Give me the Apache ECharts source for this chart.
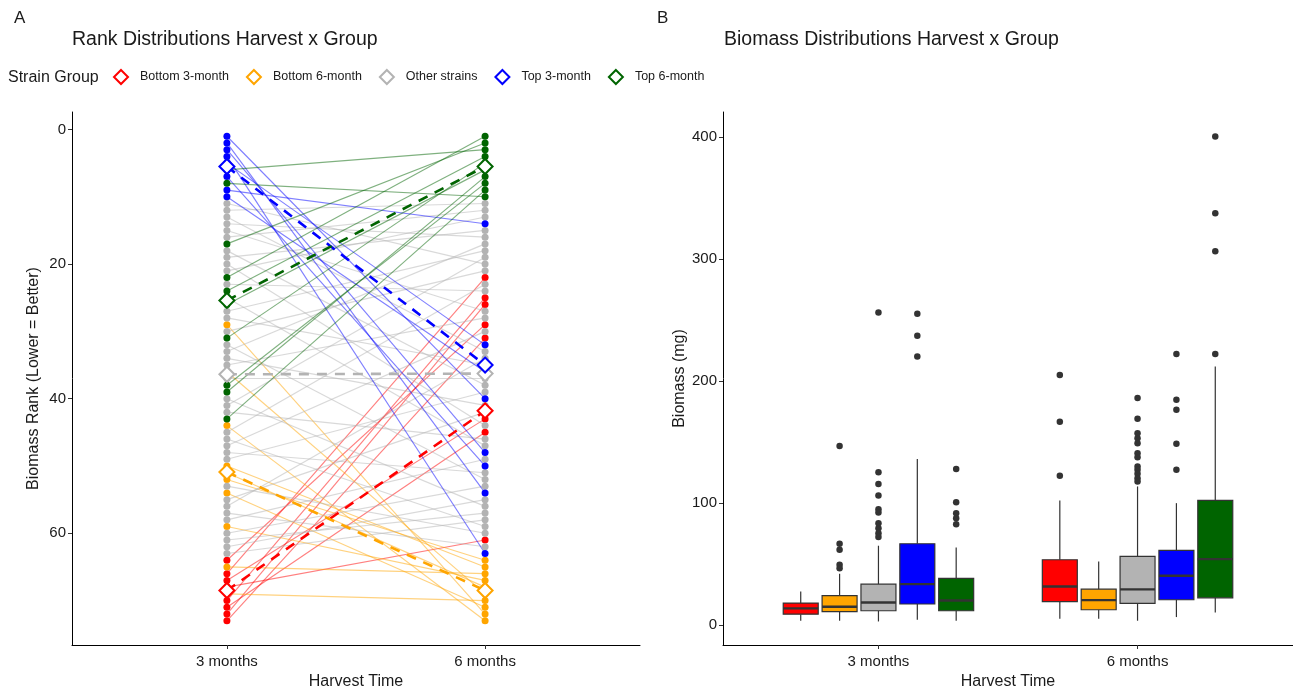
<!DOCTYPE html>
<html>
<head>
<meta charset="utf-8">
<script src="https://cdn.jsdelivr.net/npm/echarts@6/dist/echarts.min.js"></script>
<style>html,body{margin:0;padding:0;background:#fff}#main{width:1293px;height:686px}</style>
</head>
<body>
<div id="main"></div>
<script>
var harvest = ['3 months', '6 months'];
var groups = ['Bottom 3-month', 'Bottom 6-month', 'Other strains', 'Top 3-month', 'Top 6-month'];
var colors = ['#ff0000', '#ffa500', '#b3b3b3', '#0000ff', '#006400'];

// [rank at 3 months, rank at 6 months] for each strain of a group
var bottom3Ranks = [[64,29],[65,66],[66,22],[67,43],[68,61],[69,70],[70,25],[71,45],[72,26],[73,31]];
var bottom6Ranks = [[29,72],[36,69],[44,73],[50,65],[51,68],[52,64],[54,71],[59,67],[65,66],[69,70]];
var otherRanks = [[11,20],[12,11],[13,33],[14,16],[15,27],[16,12],[18,38],[19,15],[20,44],[21,13],
  [23,24],[25,47],[27,18],[28,35],[30,21],[32,52],[33,17],[34,41],[35,28],[37,37],[40,56],[41,19],
  [42,46],[45,23],[46,59],[47,30],[48,51],[49,39],[53,60],[55,42],[56,34],[57,62],[58,49],[60,53],
  [61,57],[62,55],[63,58]];
var top3Ranks = [[1,40],[2,54],[3,48],[4,63],[5,32],[6,3],[7,50],[8,10],[9,14],[10,36]];
var top6Ranks = [[6,3],[8,10],[17,2],[22,1],[24,4],[26,6],[31,5],[38,8],[39,7],[43,9]];

// biomass box stats per harvest: [lower whisker, q1, median, q3, upper whisker]
var bottom3Box = [[3.3, 8.7, 13.4, 17.8, 27.3], [4.9, 18.9, 31.4, 53.3, 101.9]];
var bottom6Box = [[3.3, 10.7, 14.8, 23.8, 41.8], [4.9, 12.3, 20.2, 29.2, 51.9]];
var otherBox = [[2.7, 11.5, 18.3, 33.3, 64.8], [3.3, 17.5, 29.0, 56.0, 113.4]];
var top3Box = [[4.1, 17.0, 33.3, 66.4, 135.8], [6.3, 20.5, 40.2, 60.9, 99.7]];
var top6Box = [[3.3, 11.5, 19.9, 38.0, 63.4], [10.1, 22.1, 53.8, 101.9, 211.7]];

// outliers per harvest
var bottom3Out = [[], [204.7, 166.4, 122.1]];
var bottom6Out = [[146.5, 66.4, 61.5, 49.2, 46.4], []];
var otherOut = [[256, 125.1, 115.3, 106, 94.8, 92, 83.3, 79.2, 75.1, 71.9],
  [186, 168.9, 157.1, 153, 148.9, 140.7, 137.4, 129.8, 127, 123.8, 120.2, 117.5]];
var top3Out = [[255, 236.9, 220], [221.9, 184.4, 176.2, 148.4, 127]];
var top6Out = [[127.6, 100.5, 91.5, 87.4, 82.5], [400.3, 337.4, 306.3, 221.9]];

var rankSets = [bottom3Ranks, bottom6Ranks, otherRanks, top3Ranks, top6Ranks];
var boxSets = [bottom3Box, bottom6Box, otherBox, top3Box, top6Box];
var outSets = [bottom3Out, bottom6Out, otherOut, top3Out, top6Out];

var FONT = '"Liberation Sans", Arial, sans-serif';
var ink = '#1a1a1a';

function avg(rows, k) {
  var s = 0;
  rows.forEach(function (r) { s += r[k]; });
  return s / rows.length;
}
// a strain listed in two groups is drawn once, in the group plotted last
function drawnRows(g) {
  return rankSets[g].filter(function (r) {
    for (var k = g + 1; k < rankSets.length; k++) {
      if (rankSets[k].some(function (o) { return o[0] === r[0] && o[1] === r[1]; })) return false;
    }
    return true;
  });
}

var chart = echarts.init(document.getElementById('main'));
var series = [];

// strain lines
rankSets.forEach(function (rows, g) {
  series.push({
    type: 'lines', coordinateSystem: 'cartesian2d', xAxisIndex: 0, yAxisIndex: 0,
    z: 1, silent: true,
    lineStyle: {color: colors[g], opacity: 0.5, width: 1.15},
    data: drawnRows(g).map(function (r) { return {coords: [[1, r[0]], [2, r[1]]]}; })
  });
});
// strain points
rankSets.forEach(function (rows, g) {
  var pts = [];
  drawnRows(g).forEach(function (r) { pts.push([1, r[0]]); pts.push([2, r[1]]); });
  series.push({
    type: 'scatter', xAxisIndex: 0, yAxisIndex: 0, z: 2, silent: true,
    symbolSize: 7, itemStyle: {color: colors[g], opacity: 1},
    data: pts
  });
});
// group means: dashed line
rankSets.forEach(function (rows, g) {
  series.push({
    type: 'line', xAxisIndex: 0, yAxisIndex: 0, z: 3, silent: true,
    symbol: 'none',
    lineStyle: {color: colors[g], width: 2.6, type: [10, 8]},
    data: [[1, avg(rows, 0)], [2, avg(rows, 1)]]
  });
});
// group means: diamonds
rankSets.forEach(function (rows, g) {
  series.push({
    type: 'scatter', name: groups[g], xAxisIndex: 0, yAxisIndex: 0, z: 4, silent: true,
    symbol: 'diamond', symbolSize: 15,
    itemStyle: {color: '#fff', borderColor: colors[g], borderWidth: 2, opacity: 1},
    data: [[1, avg(rows, 0)], [2, avg(rows, 1)]]
  });
});

// boxplots
boxSets.forEach(function (stats, g) {
  var off = (g - 2) * 0.15;
  series.push({
    type: 'custom', xAxisIndex: 1, yAxisIndex: 1, z: 2, silent: true,
    data: stats.map(function (s, h) { return [h + 1].concat(s); }),
    encode: {x: 0, y: [1, 2, 3, 4, 5]},
    renderItem: function (params, api) {
      var x = api.value(0) + off;
      var lo = api.coord([x, api.value(1)]);
      var q1 = api.coord([x, api.value(2)]);
      var md = api.coord([x, api.value(3)]);
      var q3 = api.coord([x, api.value(4)]);
      var hi = api.coord([x, api.value(5)]);
      var hw = api.size([0.135, 0])[0] / 2;
      var edge = {stroke: '#333', lineWidth: 1.2};
      return {type: 'group', children: [
        {type: 'line', shape: {x1: lo[0], y1: lo[1], x2: q1[0], y2: q1[1]}, style: edge},
        {type: 'line', shape: {x1: q3[0], y1: q3[1], x2: hi[0], y2: hi[1]}, style: edge},
        {type: 'rect', shape: {x: q1[0] - hw, y: q3[1], width: hw * 2, height: q1[1] - q3[1]},
          style: {fill: colors[g], stroke: '#333', lineWidth: 1.2}},
        {type: 'line', shape: {x1: md[0] - hw, y1: md[1], x2: md[0] + hw, y2: md[1]},
          style: {stroke: '#333', lineWidth: 2.4}}
      ]};
    }
  });
});
// outliers
outSets.forEach(function (outs, g) {
  var off = (g - 2) * 0.15;
  var pts = [];
  outs.forEach(function (vals, h) {
    vals.forEach(function (v) { pts.push([h + 1 + off, v]); });
  });
  series.push({
    type: 'scatter', xAxisIndex: 1, yAxisIndex: 1, z: 3, silent: true,
    symbolSize: 6.5, itemStyle: {color: '#333', opacity: 1},
    data: pts
  });
});

function xAxisOf(grid) {
  return {
    gridIndex: grid, type: 'value', min: 0.4, max: 2.6,
    axisLine: {onZero: false, lineStyle: {color: '#000', width: 1}},
    axisTick: {show: true, customValues: [1, 2], length: 4, lineStyle: {color: '#333'}},
    axisLabel: {customValues: [1, 2], color: ink, fontSize: 15, fontFamily: FONT, margin: 9,
      formatter: function (v) { return harvest[Math.round(v) - 1]; }},
    splitLine: {show: false},
    name: 'Harvest Time', nameLocation: 'middle', nameGap: 29,
    nameTextStyle: {color: ink, fontSize: 16, fontFamily: FONT}
  };
}
function yAxisOf(grid, min, max, ticks, name, gap, inverse) {
  return {
    gridIndex: grid, type: 'value', min: min, max: max, inverse: inverse,
    axisLine: {show: true, onZero: false, lineStyle: {color: '#000', width: 1}},
    axisTick: {show: true, customValues: ticks, length: 4, lineStyle: {color: '#333'}},
    axisLabel: {customValues: ticks, color: ink, fontSize: 15, fontFamily: FONT, margin: 6},
    splitLine: {show: false},
    name: name, nameLocation: 'middle', nameGap: gap,
    nameTextStyle: {color: ink, fontSize: 16, fontFamily: FONT}
  };
}

chart.setOption({
  animation: false,
  backgroundColor: '#fff',
  grid: [
    {left: 72, top: 112, width: 568, height: 533, outerBoundsMode: 'none', containLabel: false},
    {left: 723, top: 112, width: 570, height: 533, outerBoundsMode: 'none', containLabel: false}
  ],
  xAxis: [xAxisOf(0), xAxisOf(1)],
  yAxis: [
    yAxisOf(0, -2.6, 76.6, [0, 20, 40, 60], 'Biomass Rank (Lower = Better)', 30, true),
    yAxisOf(1, -16.6, 420.4, [0, 100, 200, 300, 400], 'Biomass (mg)', 35, false)
  ],
  legend: {
    left: 113, top: 69, padding: 0, itemWidth: 14, itemHeight: 14, itemGap: 17, selectedMode: false,
    textStyle: {color: ink, fontSize: 12.5, fontFamily: FONT, padding: [0, 0, 0, 7]},
    data: groups.map(function (name, g) {
      return {name: name, icon: 'diamond',
        itemStyle: {color: '#fff', borderColor: colors[g], borderWidth: 2}};
    })
  },
  graphic: [
    {type: 'text', left: 14, top: 10, style: {text: 'A', fontSize: 17, fontFamily: FONT, fill: ink}},
    {type: 'text', left: 657, top: 10, style: {text: 'B', fontSize: 17, fontFamily: FONT, fill: ink}},
    {type: 'text', left: 72, top: 30, style: {text: 'Rank Distributions Harvest x Group', fontSize: 19.5, fontFamily: FONT, fill: ink}},
    {type: 'text', left: 724, top: 30, style: {text: 'Biomass Distributions Harvest x Group', fontSize: 19.5, fontFamily: FONT, fill: ink}},
    {type: 'text', left: 8, top: 70, style: {text: 'Strain Group', fontSize: 16, fontFamily: FONT, fill: ink}}
  ],
  series: series
});
</script>
</body>
</html>
